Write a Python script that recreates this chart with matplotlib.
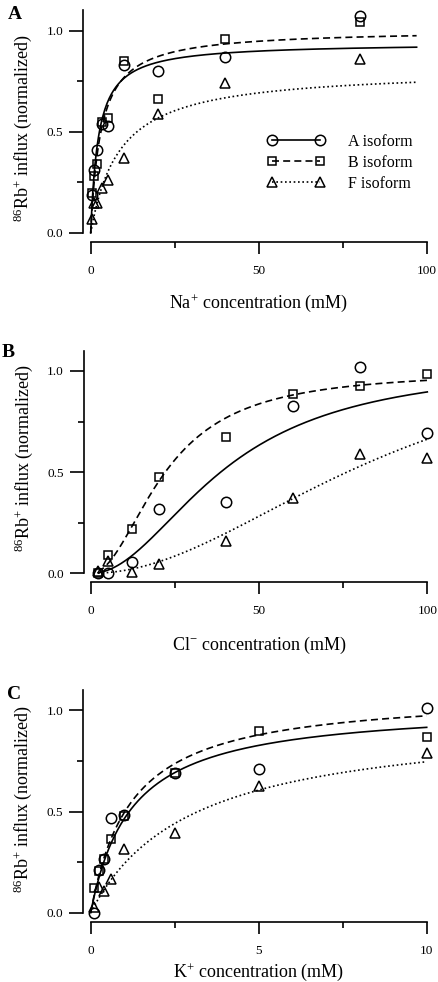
import numpy as np
import matplotlib
matplotlib.use('Agg')
import matplotlib.pyplot as plt
from matplotlib.ticker import FixedLocator, FixedFormatter
from matplotlib.lines import Line2D

plt.rcParams['font.family'] = ['Liberation Serif', 'DejaVu Serif']
plt.rcParams['mathtext.fontset'] = 'custom'
plt.rcParams['mathtext.rm'] = 'Liberation Serif'
plt.rcParams['mathtext.it'] = 'Liberation Serif:italic'
plt.rcParams['mathtext.bf'] = 'Liberation Serif:bold'

# ---------------- data ----------------
# Panel A: Na+ dependence
na_conc = [0.5, 1, 2, 3.4, 5, 10, 20, 40, 80]
na_A = [0.19, 0.31, 0.41, 0.54, 0.53, 0.83, 0.80, 0.87, 1.075]
na_B = [0.20, 0.28, 0.34, 0.55, 0.57, 0.85, 0.66, 0.96, 1.045]
na_F = [0.07, 0.15, 0.15, 0.22, 0.26, 0.37, 0.59, 0.74, 0.86]
# Michaelis-Menten fits (Vmax, K)
na_fit_A = (0.94, 2.27)
na_fit_B = (1.006, 3.06)
na_fit_F = (0.811, 8.55)

# Panel B: Cl- dependence
cl_conc = [2, 5, 12, 20, 40, 60, 80, 100]
cl_A = [0.0, 0.0, 0.058, 0.316, 0.35, 0.827, 1.018, 0.692]
cl_B = [0.0, 0.09, 0.217, 0.474, 0.672, 0.886, 0.926, 0.983]
cl_F = [0.01, 0.06, 0.005, 0.046, 0.16, 0.37, 0.588, 0.568]
# Hill fits (Vmax, K, n)
cl_fit_A = (1.04, 40.0, 2.0)
cl_fit_B = (1.0, 22.0, 2.0)
cl_fit_F = (1.2, 90.0, 2.0)

# Panel C: K+ dependence
k_conc = [0.1, 0.25, 0.4, 0.6, 1.0, 2.5, 5, 10]
k_A = [0.0, 0.21, 0.265, 0.466, 0.483, 0.692, 0.708, 1.01]
k_B = [0.124, 0.208, 0.265, 0.364, 0.479, 0.692, 0.898, 0.867]
k_F = [0.03, 0.125, 0.109, 0.168, 0.313, 0.392, 0.626, 0.787]
k_fit_A = (1.027, 1.209)
k_fit_B = (1.09, 1.2)
k_fit_F = (0.97, 3.0)

isoform_labels = ['A isoform', 'B isoform', 'F isoform']
y_ticks = [0.0, 0.5, 1.0]
y_tick_labels = ['0.0', '0.5', '1.0']
y_minor = [0.25, 0.75]

# ---------------- styles ----------------
LW = 1.2
styles = [
    dict(marker='o', ms=7.5, ls='-'),
    dict(marker='s', ms=6.0, ls=(0, (4.2, 2.5))),
    dict(marker='^', ms=7.5, ls=(0, (1, 1.6))),
]

def mm(p, x):
    v, k = p
    return v * x / (k + x)

def hill(p, x):
    v, k, n = p
    return v * x**n / (k**n + x**n)

W, H = 438.0, 982.0
fig = plt.figure(figsize=(W / 100, H / 100), dpi=100)


def make_axes(left_px, right_px, y0_px, xmax, xt, xtl, xminor):
    h_px = 1.1 * 202.3
    ax = fig.add_axes([left_px / W, 1 - y0_px / H, (right_px - left_px) / W, h_px / H])
    ax.set_xlim(0, xmax)
    ax.set_ylim(0, 1.1)
    for s in ['top', 'right']:
        ax.spines[s].set_visible(False)
    ax.spines['left'].set_position(('outward', 5.5))
    ax.spines['bottom'].set_position(('outward', 6.5))
    ax.spines['left'].set_bounds(0, 1.1)
    ax.spines['bottom'].set_bounds(0, xmax)
    for s in ['left', 'bottom']:
        ax.spines[s].set_linewidth(1.2)
    ax.patch.set_visible(False)
    ax.yaxis.set_major_locator(FixedLocator(y_ticks))
    ax.yaxis.set_major_formatter(FixedFormatter(y_tick_labels))
    ax.yaxis.set_minor_locator(FixedLocator(y_minor))
    ax.xaxis.set_major_locator(FixedLocator(xt))
    ax.xaxis.set_major_formatter(FixedFormatter(xtl))
    ax.xaxis.set_minor_locator(FixedLocator(xminor))
    ax.tick_params(axis='y', which='major', length=10, width=1.2, pad=4.3, labelsize=9.5)
    ax.tick_params(axis='y', which='minor', length=4.3, width=1.2)
    ax.tick_params(axis='x', which='major', length=8.6, width=1.2, pad=8, labelsize=9.5)
    ax.tick_params(axis='x', which='minor', length=4.1, width=1.2)
    return ax


def draw(ax, xs, ys_list, curves):
    for st, ys, (cx, cy) in zip(styles, ys_list, curves):
        ax.plot(cx, cy, color='black', lw=LW, ls=st['ls'], clip_on=False, zorder=2)
        ax.plot(xs, ys, ls='none', marker=st['marker'], ms=st['ms'], mfc='none',
                mec='black', mew=1.1, clip_on=False, zorder=3)


# Panel A
axA = make_axes(90.7, 426.7, 233.0, 100, [0, 50, 100], ['0', '50', '100'], [25, 75])
xa = np.linspace(0, 97, 300)
draw(axA, na_conc, [na_A, na_B, na_F],
     [(xa, mm(na_fit_A, xa)), (xa, mm(na_fit_B, xa)), (xa, mm(na_fit_F, xa))])
axA.set_xlabel('Na$^{+}$ concentration (mM)', fontsize=13)
axA.set_ylabel('$^{86}$Rb$^{+}$ influx (normalized)', fontsize=13)
axA.xaxis.set_label_coords(0.5, -0.266)
axA.yaxis.set_label_coords(-0.169, 0.47)

handles = [Line2D([], [], color='black', lw=LW, ls=st['ls'], marker=st['marker'],
                  ms=st['ms'], mfc='none', mec='black', mew=1.1) for st in styles]
axA.legend(handles, isoform_labels, numpoints=2, frameon=False, fontsize=11.5,
           handlelength=3.6, handletextpad=1.45, labelspacing=0.3,
           borderpad=0, borderaxespad=0, loc='upper left',
           bbox_to_anchor=(266.9 / W, 1 - 134 / H), bbox_transform=fig.transFigure)

# Panel B
axB = make_axes(91.3, 427.3, 573.3, 100, [0, 50, 100], ['0', '50', '100'], [25, 75])
xb = np.linspace(2, 100, 300)
draw(axB, cl_conc, [cl_A, cl_B, cl_F],
     [(xb, hill(cl_fit_A, xb)), (xb, hill(cl_fit_B, xb)), (xb, hill(cl_fit_F, xb))])
axB.set_xlabel('Cl$^{-}$ concentration (mM)', fontsize=13)
axB.set_ylabel('$^{86}$Rb$^{+}$ influx (normalized)', fontsize=13)
axB.xaxis.set_label_coords(0.5, -0.277)
axB.yaxis.set_label_coords(-0.169, 0.52)

# Panel C
axC = make_axes(90.7, 426.7, 912.7, 10, [0, 5, 10], ['0', '5', '10'], [2.5, 7.5])
xc = np.linspace(0, 10, 300)
draw(axC, k_conc, [k_A, k_B, k_F],
     [(xc, mm(k_fit_A, xc)), (xc, mm(k_fit_B, xc)), (xc, mm(k_fit_F, xc))])
axC.set_xlabel('K$^{+}$ concentration (mM)', fontsize=13)
axC.set_ylabel('$^{86}$Rb$^{+}$ influx (normalized)', fontsize=13)
axC.xaxis.set_label_coords(0.5, -0.22)
axC.yaxis.set_label_coords(-0.169, 0.51)

# panel letters
for letter, xp, yp in [('A', 8, 6), ('B', 2, 344), ('C', 7, 686)]:
    fig.text(xp / W, 1 - yp / H, letter, fontsize=14, fontweight='bold',
             ha='left', va='top')

fig.savefig('out.png', dpi=100)
